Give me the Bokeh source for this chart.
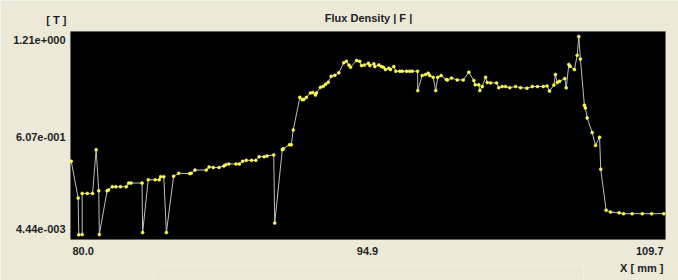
from bokeh.plotting import figure
from bokeh.models import Label, Range1d, BoxAnnotation
from bokeh.embed import file_html
from bokeh.resources import INLINE

# ---- data ----
x_mm = [80.00, 80.35, 80.38, 80.55, 80.55, 80.80, 81.07, 81.25, 81.38, 81.41,
        81.80, 81.87, 82.06, 82.24, 82.47, 82.76, 82.88, 83.00, 83.55, 83.58,
        83.86, 84.21, 84.41, 84.48, 84.64, 84.77, 85.13, 85.39, 85.94, 86.01,
        86.20, 86.77, 86.91, 87.12, 87.41, 87.65, 87.75, 87.90, 88.26, 88.43,
        88.59, 88.77, 89.04, 89.25, 89.42, 89.67, 89.82, 90.15, 90.20, 90.58,
        90.63, 90.94, 91.03, 91.13, 91.46, 91.58, 91.66, 91.79, 91.99, 92.11,
        92.24, 92.29, 92.49, 92.63, 92.75, 92.88, 93.03, 93.21, 93.41, 93.66,
        93.79, 93.92, 94.00, 94.30, 94.46, 94.55, 94.70, 94.89, 94.97, 95.17,
        95.22, 95.42, 95.55, 95.65, 95.75, 95.92, 96.00, 96.17, 96.27, 96.47,
        96.59, 96.81, 96.96, 97.09, 97.36, 97.37, 97.59, 97.76, 97.89, 97.97,
        98.14, 98.27, 98.37, 98.54, 98.80, 98.86, 99.06, 99.35, 99.65, 99.93,
        100.18, 100.25, 100.43, 100.48, 100.60, 100.77, 100.85, 101.02, 101.32, 101.43,
        101.60, 101.77, 101.98, 102.27, 102.52, 102.84, 103.11, 103.37, 103.66, 103.85,
        103.97, 104.19, 104.27, 104.36, 104.47, 104.74, 104.81, 104.94, 105.00, 105.22,
        105.36, 105.44, 105.52, 105.72, 105.77, 105.86, 106.11, 106.28, 106.48, 106.54,
        106.81, 107.03, 107.46, 107.68, 108.11, 108.62, 109.09, 109.70]

flux_t = [0.452, 0.228, 0.00444, 0.006, 0.256, 0.256, 0.256, 0.522, 0.272, 0.006,
          0.272, 0.277, 0.297, 0.297, 0.297, 0.297, 0.319, 0.319, 0.319, 0.018,
          0.339, 0.339, 0.339, 0.358, 0.358, 0.018, 0.360, 0.378, 0.377, 0.378,
          0.398, 0.398, 0.417, 0.414, 0.414, 0.423, 0.431, 0.435, 0.435, 0.435,
          0.451, 0.457, 0.457, 0.457, 0.479, 0.479, 0.484, 0.490, 0.076, 0.522,
          0.528, 0.552, 0.552, 0.642, 0.840, 0.825, 0.828, 0.840, 0.867, 0.869,
          0.855, 0.867, 0.901, 0.907, 0.920, 0.932, 0.968, 0.974, 0.989, 1.050,
          1.060, 1.036, 1.023, 1.064, 1.060, 1.033, 1.037, 1.047, 1.033, 1.044,
          1.027, 1.037, 1.027, 1.023, 1.009, 1.017, 1.009, 1.027, 0.999, 0.999,
          0.999, 0.999, 0.999, 0.999, 0.999, 0.881, 0.973, 0.979, 0.987, 0.973,
          0.962, 0.881, 0.962, 0.973, 0.948, 0.946, 0.957, 0.946, 0.946, 0.993,
          0.942, 0.916, 0.916, 0.881, 0.906, 0.962, 0.930, 0.928, 0.928, 0.899,
          0.906, 0.906, 0.899, 0.906, 0.899, 0.896, 0.906, 0.906, 0.906, 0.909,
          0.878, 0.915, 0.979, 0.930, 0.938, 0.954, 0.898, 1.040, 1.029, 1.009,
          1.096, 1.210, 1.073, 0.792, 0.776, 0.715, 0.626, 0.548, 0.598, 0.403,
          0.154, 0.143, 0.138, 0.133, 0.133, 0.133, 0.133, 0.133]

y_tick_labels = ["1.21e+000", "6.07e-001", "4.44e-003"]
x_tick_labels = ["80.0", "94.9", "109.7"]
title_text = "Flux Density | F |"
y_unit = "[ T ]"
x_unit = "X [ mm ]"

# ---- layout (canvas pixels, origin top-left) ----
W, H = 678, 280
X_PX0, X_PX1, X_V0, X_V1 = 70.7, 663.3, 80.0, 109.7     # pixel <-> value anchors
Y_PX0, Y_PX1, Y_V0, Y_V1 = 36.0, 234.3, 1.21, 0.00444


def px_x(v):
    return X_V0 + (v - X_PX0) * (X_V1 - X_V0) / (X_PX1 - X_PX0)


def px_y(v):
    return Y_V0 + (v - Y_PX0) * (Y_V1 - Y_V0) / (Y_PX1 - Y_PX0)


BG = "#ECE9D8"
TXT = "#1e1e1e"
FONT = "Liberation Sans"

p = figure(width=W, height=H, output_backend="svg", toolbar_location=None,
           x_range=Range1d(px_x(0), px_x(W)), y_range=Range1d(px_y(H), px_y(0)),
           min_border=0, x_axis_location=None, y_axis_location=None)
p.grid.visible = False
p.background_fill_color = BG
p.border_fill_color = BG
p.outline_line_color = None

# black plot area
p.add_layout(BoxAnnotation(left=px_x(70), right=px_x(665), top=px_y(31), bottom=px_y(239),
                           fill_color="black", fill_alpha=1.0,
                           line_color="#4a4a4a", line_width=1, level="underlay"))
# etched panel below the chart
p.add_layout(BoxAnnotation(left=px_x(153), right=px_x(583), top=px_y(265), bottom=px_y(290),
                           fill_alpha=0.0, line_color="white", line_width=1, level="underlay"))

p.line(x_mm, flux_t, line_color="#BEBEBE", line_width=1)
p.scatter(x_mm, flux_t, size=3.0, fill_color="#FFFF50", line_color="#FFFF50", line_width=0.5)


def add_label(text, fx, fy, align):
    p.add_layout(Label(x=px_x(fx), y=px_y(fy), text=text, text_align=align,
                       text_baseline="middle", text_font=FONT,
                       text_font_size="11px", text_font_style="bold",
                       text_color=TXT))


add_label(y_unit, 66, 19, "right")
add_label(title_text, 368, 17, "center")
for lab, fy in zip(y_tick_labels, [39.5, 136.5, 228.5]):
    add_label(lab, 65, fy, "right")
for lab, fx, al in zip(x_tick_labels, [72, 367, 663], ["left", "center", "right"]):
    add_label(lab, fx, 250.5, al)
add_label(x_unit, 663, 267.5, "right")

open("out.html", "w").write(file_html(p, INLINE))
